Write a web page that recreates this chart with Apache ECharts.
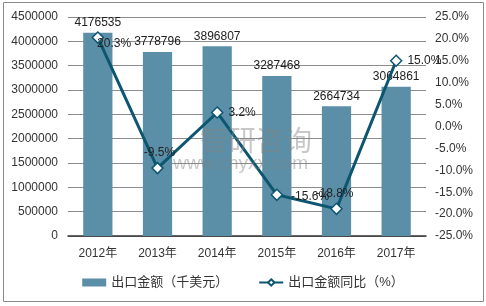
<!DOCTYPE html>
<html><head><meta charset="utf-8">
<script src="https://cdn.jsdelivr.net/npm/echarts@6/dist/echarts.min.js"></script>
<style>html,body{margin:0;padding:0;background:#fff}#c{width:486px;height:306px}</style>
</head><body><div id="c"></div>
<script>
const categories = ['2012年','2013年','2014年','2015年','2016年','2017年'];
const exportValues = [4176535, 3778796, 3896807, 3287468, 2664734, 3064861];
const yoyValues = [20.3, -9.5, 3.2, -15.6, -18.8, 15.0];
const barName = '出口金额（千美元）';
const lineName = '出口金额同比（%）';

const font = '"Liberation Sans", "Noto Sans CJK SC", sans-serif';
const labelPos = [
  {position: 'right', offset: [-10, 6]},
  {position: 'top', offset: [2, 0]},
  {position: 'right', offset: [2, 0]},
  {position: 'right', offset: [5, 2]},
  {position: 'top', offset: [-2, 0]},
  {position: 'right', offset: [2, 0]}
];
const chart = echarts.init(document.getElementById('c'));
chart.setOption({
  animation: false,
  textStyle: {fontFamily: font},
  graphic: [
    {type: 'rect', shape: {x: 3.5, y: 2.5, width: 480, height: 299}, style: {fill: 'none', stroke: '#8a8a8a', lineWidth: 1}},
    {type: 'text', left: 200, top: 126, z: 100, style: {text: '智研咨询', fill: 'rgba(130,130,130,0.45)', font: '28px "Noto Sans CJK SC"'}},
    {type: 'text', left: 173, top: 154, z: 100, style: {text: 'www.chyxx.com', fill: 'rgba(130,130,130,0.45)', font: '19px "Liberation Sans"'}}
  ],
  grid: {left: 68, right: 60, top: 17, bottom: 70},
  legend: {
    bottom: 12, left: 'center', itemGap: 30, itemWidth: 24, itemHeight: 8,
    textStyle: {fontSize: 13, color: '#333', fontFamily: font},
    data: [{name: barName, icon: 'rect'}, {name: lineName}]
  },
  xAxis: {
    type: 'category', data: categories,
    axisLine: {lineStyle: {color: '#333', width: 1.5}},
    axisTick: {show: false},
    axisLabel: {color: '#333', fontSize: 12, margin: 12}
  },
  yAxis: [
    {type: 'value', min: 0, max: 4500000, interval: 500000,
     axisLine: {show: false}, axisTick: {show: false},
     splitLine: {lineStyle: {color: '#8c8c8c'}},
     axisLabel: {color: '#333', fontSize: 12, margin: 10, formatter: v => String(v)}},
    {type: 'value', min: -25, max: 25, interval: 5,
     axisLine: {show: false}, axisTick: {show: false},
     splitLine: {show: false},
     axisLabel: {color: '#333', fontSize: 12, margin: 9, formatter: v => v.toFixed(1) + '%'}}
  ],
  series: [
    {name: barName, type: 'bar', data: exportValues, barWidth: '49%',
     itemStyle: {color: '#5b8fa7'},
     label: {show: true, position: 'top', color: '#222', fontSize: 12, distance: 4}},
    {name: lineName, type: 'line', yAxisIndex: 1,
     data: yoyValues.map((v, i) => ({value: v, label: labelPos[i]})),
     symbol: 'diamond', symbolSize: 11,
     lineStyle: {color: '#0d5670', width: 3},
     itemStyle: {color: '#fff', borderColor: '#0d5670', borderWidth: 1.5},
     label: {show: true, color: '#222', fontSize: 12, distance: 3, formatter: p => p.value.toFixed(1) + '%'}}
  ]
});
</script></body></html>
